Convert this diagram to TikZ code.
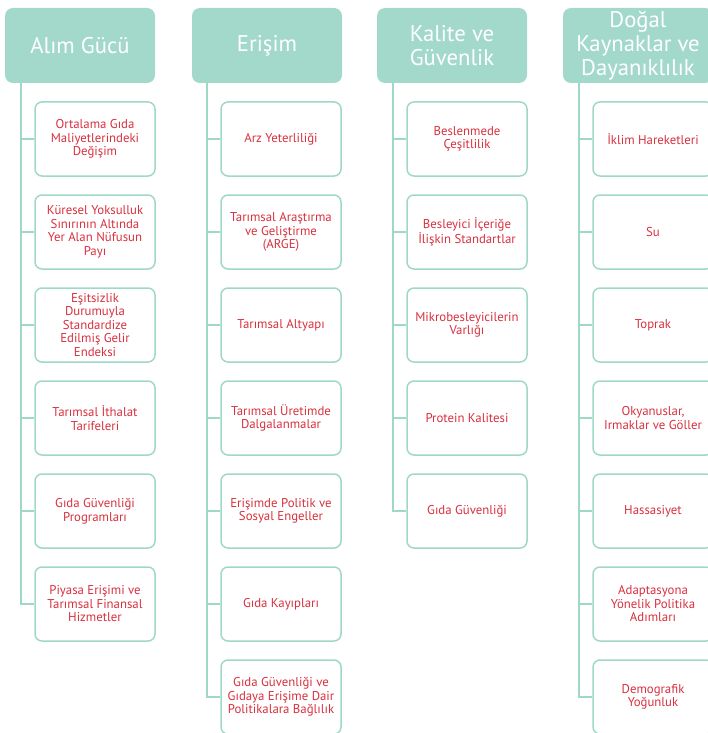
\documentclass[tikz,border=0pt]{standalone}
\usepackage{fontspec}
\setmainfont{PT Sans}
\definecolor{mint}{HTML}{A3D9CB}
\definecolor{mintline}{HTML}{A0D8C8}
\definecolor{textred}{HTML}{D8313F}
\tikzset{
  head/.style={fill=mint, rounded corners=8pt, minimum width=150pt, minimum height=75pt,
    text=white, align=center, font=\fontsize{22.7}{24}\selectfont, inner sep=0pt},
  item/.style={draw=mintline, line width=1.5pt, fill=white, rounded corners=7pt,
    minimum width=120pt, minimum height=74pt, text=textred, align=center,
    font=\fontsize{12.8}{13.5}\selectfont, inner sep=0pt},
  link/.style={draw=mintline, line width=1.5pt}
}
\begin{document}
\begin{tikzpicture}[x=1pt, y=-1pt]
  \useasboundingbox (0,0) rectangle (708,733);
  \clip (0,0) rectangle (708,733);
  % basliklar
  \node [head] (h1) at (80, 45.5) {Alım Gücü};
  \node [head] (h2) at (267, 45.5) {Erişim};
  \node [head] (h3) at (452, 45.5) {Kalite ve\\Güvenlik};
  \node [head] (h4) at (638, 45.5) {Doğal\\Kaynaklar ve\\Dayanıklılık};
  % govde noktalari
  \coordinate (t1) at (21, 83);
  \coordinate (t2) at (207, 83);
  \coordinate (t3) at (393, 83);
  \coordinate (t4) at (579, 83);
  % alim gucu
  \node [item] (a1) at (95, 139) {Ortalama Gıda\\Maliyetlerindeki\\Değişim};
  \node [item] (a2) at (95, 232) {Küresel Yoksulluk\\Sınırının Altında\\Yer Alan Nüfusun\\Payı};
  \node [item] (a3) at (95, 325) {Eşitsizlik\\Durumuyla\\Standardize\\Edilmiş Gelir\\Endeksi};
  \node [item] (a4) at (95, 418) {Tarımsal İthalat\\Tarifeleri};
  \node [item] (a5) at (95, 511) {Gıda Güvenliği\\Programları};
  \node [item] (a6) at (95, 604) {Piyasa Erişimi ve\\Tarımsal Finansal\\Hizmetler};
  % erisim
  \node [item] (b1) at (281, 139) {Arz Yeterliliği};
  \node [item] (b2) at (281, 232) {Tarımsal Araştırma\\ve Geliştirme\\(ARGE)};
  \node [item] (b3) at (281, 325) {Tarımsal Altyapı};
  \node [item] (b4) at (281, 418) {Tarımsal Üretimde\\Dalgalanmalar};
  \node [item] (b5) at (281, 511) {Erişimde Politik ve\\Sosyal Engeller};
  \node [item] (b6) at (281, 604) {Gıda Kayıpları};
  \node [item] (b7) at (281, 697) {Gıda Güvenliği ve\\Gıdaya Erişime Dair\\Politikalara Bağlılık};
  % kalite ve guvenlik
  \node [item] (c1) at (467, 139) {Beslenmede\\Çeşitlilik};
  \node [item] (c2) at (467, 232) {Besleyici İçeriğe\\İlişkin Standartlar};
  \node [item] (c3) at (467, 325) {Mikrobesleyicilerin\\Varlığı};
  \node [item] (c4) at (467, 418) {Protein Kalitesi};
  \node [item] (c5) at (467, 511) {Gıda Güvenliği};
  % dogal kaynaklar
  \node [item] (d1) at (653, 139) {İklim Hareketleri};
  \node [item] (d2) at (653, 232) {Su};
  \node [item] (d3) at (653, 325) {Toprak};
  \node [item] (d4) at (653, 418) {Okyanuslar,\\Irmaklar ve Göller};
  \node [item] (d5) at (653, 511) {Hassasiyet};
  \node [item] (d6) at (653, 604) {Adaptasyona\\Yönelik Politika\\Adımları};
  \node [item] (d7) at (653, 697) {Demografik\\Yoğunluk};
  % govdeler
  \draw [link] (t1) |- (a6.west);
  \draw [link] (t2) |- (b7.west);
  \draw [link] (t3) |- (c5.west);
  \draw [link] (t4) |- (d7.west);
  % dallar
  \foreach \n in {1,...,5} \draw [link] (a\n.west) -- (a\n.west -| t1);
  \foreach \n in {1,...,6} \draw [link] (b\n.west) -- (b\n.west -| t2);
  \foreach \n in {1,...,4} \draw [link] (c\n.west) -- (c\n.west -| t3);
  \foreach \n in {1,...,6} \draw [link] (d\n.west) -- (d\n.west -| t4);
\end{tikzpicture}
\end{document}
